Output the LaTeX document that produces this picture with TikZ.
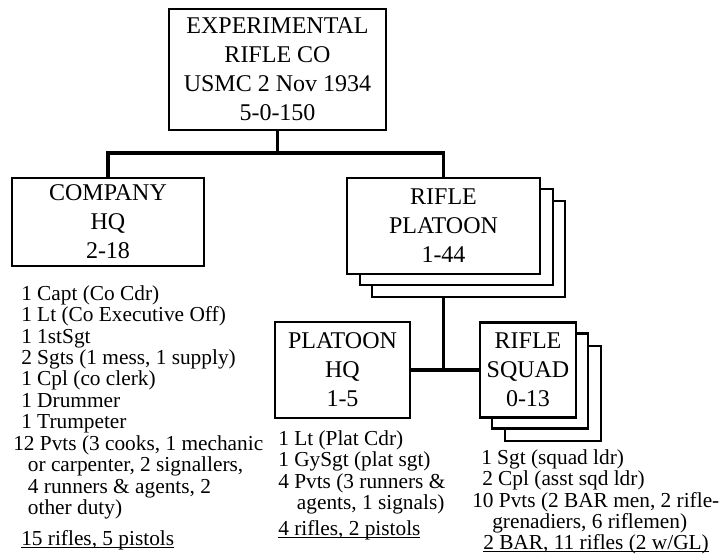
\documentclass[tikz,border=0pt]{standalone}
\usepackage{fontspec}
\setmainfont{Liberation Serif}
\usepackage{tikz}

\newcommand{\armsline}[1]{\setbox0\hbox{#1}\rlap{\rule[-2.4pt]{\wd0}{0.7pt}}\box0}

\tikzset{
  unitbox/.style={draw,line width=2pt,fill=white,align=center,inner sep=0pt,
    font={\fontsize{18}{21.75}\selectfont}},
  roster/.style={align=left,inner sep=0pt,anchor=north west,
    font={\fontsize{16}{16.1}\selectfont}},
  arms/.style={inner sep=0pt,anchor=base west,font={\fontsize{16}{16.1}\selectfont}},
  link/.style={line width=2.5pt}
}

\begin{document}
\begin{tikzpicture}[x=0.75pt,y=-0.75pt]
\useasboundingbox (0,0) rectangle (719,554);

% Comando di compagnia
\node[unitbox,minimum width=162.75pt,minimum height=90.75pt] (top) at (277.5,69.5)
  {EXPERIMENTAL\\RIFLE CO\\USMC 2 Nov 1934\\5-0-150};

\node[unitbox,minimum width=144pt,minimum height=66pt] (co) at (108,222)
  {COMPANY\\HQ\\2-18};

% Plotoni (pila)
\foreach \k/\dx/\dy in {3/25/23,2/13/11}
    \node[unitbox,minimum width=144.75pt,minimum height=72pt] (plt\k) at (443.5+\dx,226+\dy) {};
\node[unitbox,minimum width=144.75pt,minimum height=72pt] (plt) at (443.5,226)
  {RIFLE\\PLATOON\\1-44};

\node[unitbox,minimum width=101.25pt,minimum height=72pt] (phq) at (342.5,370)
  {PLATOON\\HQ\\1-5};

% Squadre (pila)
\foreach \k/\dx/\dy in {3/25/23.5,2/12/11}
    \node[unitbox,minimum width=72pt,minimum height=71.25pt] (sqd\k) at (528+\dx,370+\dy) {};
\node[unitbox,minimum width=72pt,minimum height=71.25pt] (sqd) at (528,370)
  {RIFLE\\SQUAD\\0-13};

% Collegamenti
\coordinate (bus) at (277.5,153);
\coordinate (jct) at (443.5,370);
\draw[link] (top.south) -- (bus);
\draw[link] (co.north) |- (bus) -| (plt.north);
\draw[link] (plt3.south -| plt.south) -- (jct);
\draw[link] (phq.east) -- (sqd.west);

% Organici
\node[roster] (colist) at (13,285)
  {\hspace*{6pt}1 Capt (Co Cdr)\\
   \hspace*{6pt}1 Lt (Co Executive Off)\\
   \hspace*{6pt}1 1stSgt\\
   \hspace*{6pt}2 Sgts (1 mess, 1 supply)\\
   \hspace*{6pt}1 Cpl (co clerk)\\
   \hspace*{6pt}1 Drummer\\
   \hspace*{6pt}1 Trumpeter\\
   12 Pvts (3 cooks, 1 mechanic\\
   \hspace*{11pt}or carpenter, 2 signallers,\\
   \hspace*{11pt}4 runners \& agents, 2\\
   \hspace*{11pt}other duty)};
\node[arms] (coarms) at (21,545) {\armsline{15 rifles, 5 pistols}};

\node[roster] (phqlist) at (278,430)
  {1 Lt (Plat Cdr)\\
   1 GySgt (plat sgt)\\
   4 Pvts (3 runners \&\\
   \hspace*{14pt}agents, 1 signals)};
\node[arms] (phqarms) at (278,535) {\armsline{4 rifles, 2 pistols}};

\node[roster] (sqdlist) at (472,449)
  {\hspace*{6.75pt}1 Sgt (squad ldr)\\
   \hspace*{7.5pt}2 Cpl (asst sqd ldr)\\
   10 Pvts (2 BAR men, 2 rifle-\\
   \hspace*{15pt}grenadiers, 6 riflemen)};
\node[arms] (sqdarms) at (483,549) {\armsline{2 BAR, 11 rifles (2 w/GL)}};
\end{tikzpicture}
\end{document}
